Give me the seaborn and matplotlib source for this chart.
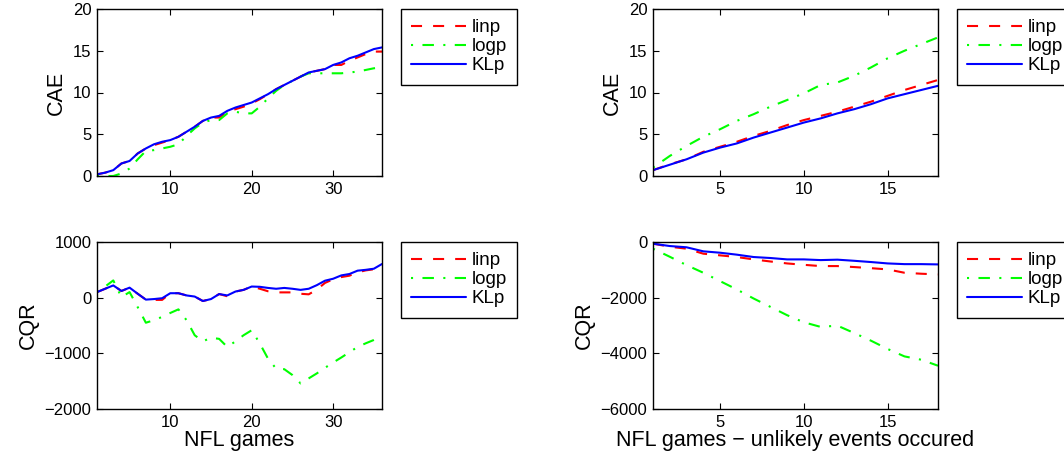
import matplotlib
matplotlib.use("Agg")
import matplotlib.pyplot as plt
import numpy as np
import pandas as pd
import seaborn as sns

# NFL games (all) - x = 1..36
games_all = list(range(1, 37))
cae_all_linp = [0.2, 0.4, 0.7, 1.5, 1.8, 2.7, 3.3, 3.7, 4.0, 4.3, 4.7, 5.3, 5.9, 6.6, 7.0, 7.0,
                7.7, 8.0, 8.3, 8.7, 9.2, 9.8, 10.4, 10.9, 11.4, 11.9, 12.4, 12.6, 12.8, 13.3, 13.3,
                13.8, 14.2, 14.6, 14.9, 14.9]
cae_all_logp = [0.0, 0.0, 0.0, 0.3, 0.9, 2.0, 3.0, 3.1, 3.3, 3.5, 3.8, 4.8, 5.7, 6.4, 6.7, 6.7,
                7.5, 7.7, 7.5, 7.5, 8.3, 9.3, 10.2, 10.9, 11.4, 11.9, 12.3, 12.3, 12.3, 12.3, 12.3,
                12.4, 12.5, 12.7, 12.9, 13.0]
cae_all_klp = [0.2, 0.4, 0.7, 1.5, 1.8, 2.7, 3.3, 3.8, 4.1, 4.3, 4.7, 5.3, 5.9, 6.6, 7.0, 7.2,
               7.8, 8.2, 8.5, 8.8, 9.3, 9.8, 10.4, 10.9, 11.4, 11.9, 12.4, 12.6, 12.8, 13.3, 13.6,
               14.1, 14.4, 14.8, 15.2, 15.4]
cqr_all_linp = [100, 160, 220, 120, 180, 70, -35, -40, -40, 80, 80, 40, 20, -60, -25, 65,
                25, 110, 140, 200, 160, 115, 95, 95, 95, 70, 60, 145, 265, 330, 370,
                395, 455, 490, 510, 605]
cqr_all_logp = [100, 200, 310, 10, 100, -170, -450, -405, -345, -275, -210, -405, -675, -785,
                -720, -740, -885, -785, -675, -585, -825, -1095, -1275, -1285, -1390, -1540,
                -1450, -1360, -1260, -1165, -1075, -980, -885, -820, -760, -690]
cqr_all_klp = [100, 160, 220, 120, 180, 70, -35, -25, -10, 80, 80, 40, 20, -60, -25, 65,
               40, 110, 140, 200, 195, 175, 160, 175, 160, 140, 160, 225, 305, 340, 400,
               425, 485, 500, 520, 605]

# NFL games where unlikely events occurred - x = 1..18
games_unl = list(range(1, 19))
cae_unl_linp = [0.7, 1.4, 2.0, 2.9, 3.5, 4.1, 4.8, 5.4, 6.1, 6.7, 7.2, 7.7, 8.3, 8.9, 9.6,
                10.3, 10.9, 11.5]
cae_unl_logp = [1.0, 2.4, 3.6, 4.7, 5.6, 6.6, 7.4, 8.3, 9.1, 9.9, 10.9, 11.2, 12.0, 13.0,
                14.1, 15.0, 15.8, 16.6]
cae_unl_klp = [0.7, 1.35, 2.0, 2.8, 3.4, 3.9, 4.6, 5.2, 5.8, 6.4, 6.9, 7.5, 8.0, 8.6, 9.3,
               9.8, 10.3, 10.8]
cqr_unl_linp = [-60, -170, -240, -420, -480, -540, -625, -700, -770, -820, -865, -865, -900,
                -940, -985, -1105, -1140, -1165]
cqr_unl_logp = [-240, -530, -830, -1105, -1405, -1705, -2030, -2330, -2630, -2885, -3050,
                -3005, -3270, -3545, -3845, -4110, -4230, -4445]
cqr_unl_klp = [-60, -145, -190, -335, -385, -455, -540, -575, -625, -625, -650, -635, -675,
               -720, -770, -795, -795, -805]

METHODS = ["linp", "logp", "KLp"]
COLORS = {"linp": "#ff0000", "logp": "#00ff00", "KLp": "#0000ff"}
STYLES = {"linp": (0, (5.3, 5.3)), "logp": (0, (1, 4.5, 5.5, 4.5)), "KLp": "-"}

sns.set_style("ticks", {"xtick.direction": "in", "ytick.direction": "in",
                        "text.color": "black", "axes.labelcolor": "black"})
plt.rcParams["font.family"] = ["Liberation Sans", "DejaVu Sans"]

fig = plt.figure(figsize=(10.64, 4.66), dpi=100)
lx, rx, w = 97 / 1064, 653 / 1064, 285 / 1064
ty, by, h = 1 - 176 / 466, 1 - 409 / 466, 167 / 466

panels = [
    ([lx, ty, w, h], games_all, [cae_all_linp, cae_all_logp, cae_all_klp], "CAE",
     (1, 36), (0, 20), [10, 20, 30], [0, 5, 10, 15, 20], None),
    ([lx, by, w, h], games_all, [cqr_all_linp, cqr_all_logp, cqr_all_klp], "CQR",
     (1, 36), (-2000, 1000), [10, 20, 30], [-2000, -1000, 0, 1000], "NFL games"),
    ([rx, ty, w, h], games_unl, [cae_unl_linp, cae_unl_logp, cae_unl_klp], "CAE",
     (1, 18), (0, 20), [5, 10, 15], [0, 5, 10, 15, 20], None),
    ([rx, by, w, h], games_unl, [cqr_unl_linp, cqr_unl_logp, cqr_unl_klp], "CQR",
     (1, 18), (-6000, 0), [5, 10, 15], [-6000, -4000, -2000, 0],
     "NFL games \u2212 unlikely events occured"),
]

for rect, xs, series, ylab, xlim, ylim, xt, yt, xlab in panels:
    ax = fig.add_axes(rect)
    for name, ys in zip(METHODS, series):
        sns.lineplot(x=xs, y=ys, ax=ax, color=COLORS[name], linestyle=STYLES[name],
                     linewidth=1.5, label=name)
    ax.set_xlim(*xlim)
    ax.set_ylim(*ylim)
    ax.set_xticks(xt)
    ax.set_yticks(yt)
    ax.tick_params(top=True, right=True, labelsize=12, length=4, width=0.8,
                   colors="black", pad=4)
    for sp in ax.spines.values():
        sp.set_linewidth(1.0)
        sp.set_color("black")
    ax.set_ylabel(ylab, fontsize=15.5, color="black")
    ax.set_xlabel(xlab if xlab else "", fontsize=15.5, labelpad=0, color="black")
    leg = ax.legend(loc="upper left", bbox_to_anchor=(1.067, 1.0), borderaxespad=0,
                    fontsize=13.5, handlelength=2.9, handletextpad=0.3, labelspacing=0.1,
                    borderpad=0.55, fancybox=False, framealpha=1, labelcolor="black")
    leg.get_frame().set_edgecolor("black")
    leg.get_frame().set_linewidth(1.0)

fig.savefig("out.png", dpi=100)
